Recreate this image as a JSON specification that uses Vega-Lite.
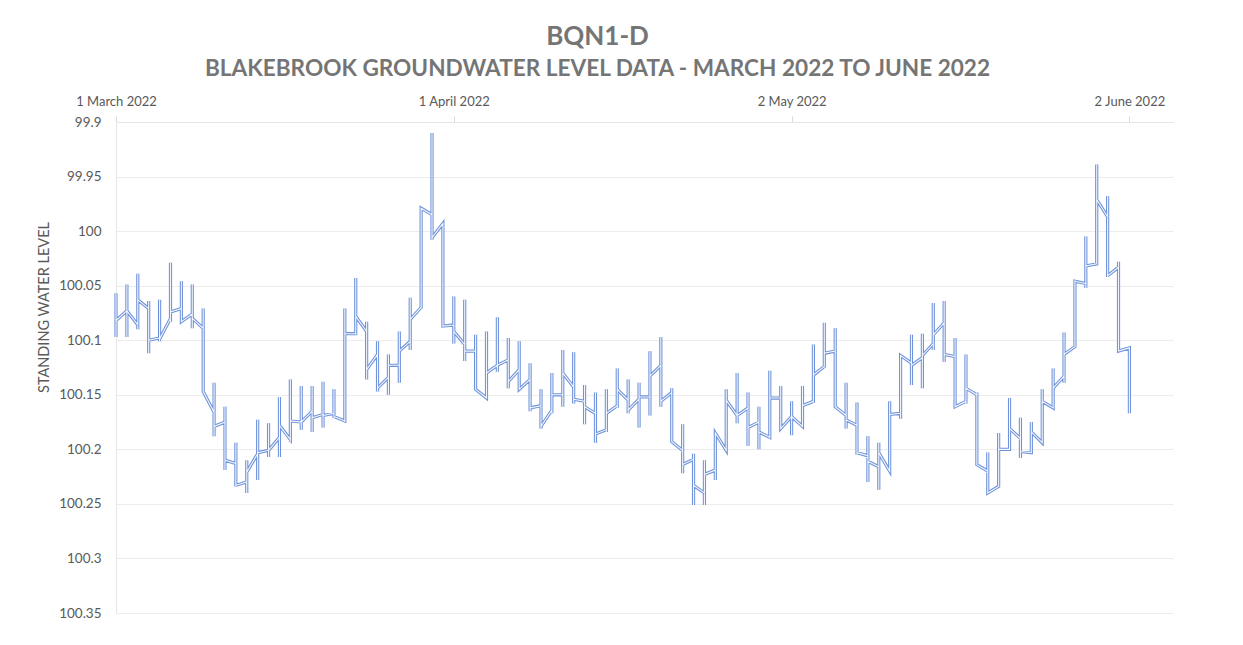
{
  "$schema": "https://vega.github.io/schema/vega-lite/v6.json",
  "width": 1057,
  "height": 491,
  "autosize": {"type": "none"},
  "padding": {"left": 116, "top": 122, "right": 70, "bottom": 32},
  "background": "#ffffff",
  "config": {"view": {"stroke": null}, "font": "Lato"},
  "title": {
    "text": "BQN1-D",
    "subtitle": "BLAKEBROOK GROUNDWATER LEVEL DATA - MARCH 2022 TO JUNE 2022",
    "anchor": "middle",
    "frame": "bounds",
    "dx": -7,
    "offset": 14,
    "font": "Lato",
    "fontSize": 26,
    "fontWeight": "bold",
    "color": "#757575",
    "subtitleFont": "Lato",
    "subtitleFontSize": 22.6,
    "subtitleFontWeight": "bold",
    "subtitleColor": "#757575",
    "subtitlePadding": 8
  },
  "data": {"values": [
{"date":"2022-03-01","seq":0,"level":100.082},{"date":"2022-03-01","seq":1,"level":100.057},{"date":"2022-03-01","seq":2,"level":100.097},{"date":"2022-03-01","seq":3,"level":100.082},
{"date":"2022-03-02","seq":4,"level":100.073},{"date":"2022-03-02","seq":5,"level":100.049},{"date":"2022-03-02","seq":6,"level":100.097},{"date":"2022-03-02","seq":7,"level":100.073},
{"date":"2022-03-03","seq":8,"level":100.086},{"date":"2022-03-03","seq":9,"level":100.039},{"date":"2022-03-03","seq":10,"level":100.090},{"date":"2022-03-03","seq":11,"level":100.063},
{"date":"2022-03-04","seq":12,"level":100.071},{"date":"2022-03-04","seq":13,"level":100.064},{"date":"2022-03-04","seq":14,"level":100.112},{"date":"2022-03-04","seq":15,"level":100.100},
{"date":"2022-03-05","seq":16,"level":100.098},{"date":"2022-03-05","seq":17,"level":100.063},{"date":"2022-03-05","seq":18,"level":100.101},{"date":"2022-03-05","seq":19,"level":100.099},
{"date":"2022-03-06","seq":20,"level":100.080},{"date":"2022-03-06","seq":21,"level":100.029},{"date":"2022-03-06","seq":22,"level":100.083},{"date":"2022-03-06","seq":23,"level":100.074},
{"date":"2022-03-07","seq":24,"level":100.071},{"date":"2022-03-07","seq":25,"level":100.046},{"date":"2022-03-07","seq":26,"level":100.083},{"date":"2022-03-07","seq":27,"level":100.083},
{"date":"2022-03-08","seq":28,"level":100.076},{"date":"2022-03-08","seq":29,"level":100.049},{"date":"2022-03-08","seq":30,"level":100.089},{"date":"2022-03-08","seq":31,"level":100.080},
{"date":"2022-03-09","seq":32,"level":100.089},{"date":"2022-03-09","seq":33,"level":100.071},{"date":"2022-03-09","seq":34,"level":100.148},{"date":"2022-03-09","seq":35,"level":100.147},
{"date":"2022-03-10","seq":36,"level":100.166},{"date":"2022-03-10","seq":37,"level":100.139},{"date":"2022-03-10","seq":38,"level":100.188},{"date":"2022-03-10","seq":39,"level":100.179},
{"date":"2022-03-11","seq":40,"level":100.175},{"date":"2022-03-11","seq":41,"level":100.161},{"date":"2022-03-11","seq":42,"level":100.219},{"date":"2022-03-11","seq":43,"level":100.210},
{"date":"2022-03-12","seq":44,"level":100.213},{"date":"2022-03-12","seq":45,"level":100.194},{"date":"2022-03-12","seq":46,"level":100.234},{"date":"2022-03-12","seq":47,"level":100.233},
{"date":"2022-03-13","seq":48,"level":100.230},{"date":"2022-03-13","seq":49,"level":100.210},{"date":"2022-03-13","seq":50,"level":100.240},{"date":"2022-03-13","seq":51,"level":100.221},
{"date":"2022-03-14","seq":52,"level":100.204},{"date":"2022-03-14","seq":53,"level":100.173},{"date":"2022-03-14","seq":54,"level":100.228},{"date":"2022-03-14","seq":55,"level":100.203},
{"date":"2022-03-15","seq":56,"level":100.201},{"date":"2022-03-15","seq":57,"level":100.176},{"date":"2022-03-15","seq":58,"level":100.207},{"date":"2022-03-15","seq":59,"level":100.201},
{"date":"2022-03-16","seq":60,"level":100.189},{"date":"2022-03-16","seq":61,"level":100.152},{"date":"2022-03-16","seq":62,"level":100.207},{"date":"2022-03-16","seq":63,"level":100.178},
{"date":"2022-03-17","seq":64,"level":100.191},{"date":"2022-03-17","seq":65,"level":100.136},{"date":"2022-03-17","seq":66,"level":100.193},{"date":"2022-03-17","seq":67,"level":100.174},
{"date":"2022-03-18","seq":68,"level":100.175},{"date":"2022-03-18","seq":69,"level":100.142},{"date":"2022-03-18","seq":70,"level":100.182},{"date":"2022-03-18","seq":71,"level":100.175},
{"date":"2022-03-19","seq":72,"level":100.165},{"date":"2022-03-19","seq":73,"level":100.142},{"date":"2022-03-19","seq":74,"level":100.184},{"date":"2022-03-19","seq":75,"level":100.171},
{"date":"2022-03-20","seq":76,"level":100.168},{"date":"2022-03-20","seq":77,"level":100.138},{"date":"2022-03-20","seq":78,"level":100.180},{"date":"2022-03-20","seq":79,"level":100.169},
{"date":"2022-03-21","seq":80,"level":100.167},{"date":"2022-03-21","seq":81,"level":100.145},{"date":"2022-03-21","seq":82,"level":100.171},{"date":"2022-03-21","seq":83,"level":100.170},
{"date":"2022-03-22","seq":84,"level":100.174},{"date":"2022-03-22","seq":85,"level":100.071},{"date":"2022-03-22","seq":86,"level":100.175},{"date":"2022-03-22","seq":87,"level":100.094},
{"date":"2022-03-23","seq":88,"level":100.094},{"date":"2022-03-23","seq":89,"level":100.043},{"date":"2022-03-23","seq":90,"level":100.095},{"date":"2022-03-23","seq":91,"level":100.078},
{"date":"2022-03-24","seq":92,"level":100.092},{"date":"2022-03-24","seq":93,"level":100.083},{"date":"2022-03-24","seq":94,"level":100.136},{"date":"2022-03-24","seq":95,"level":100.127},
{"date":"2022-03-25","seq":96,"level":100.113},{"date":"2022-03-25","seq":97,"level":100.101},{"date":"2022-03-25","seq":98,"level":100.147},{"date":"2022-03-25","seq":99,"level":100.144},
{"date":"2022-03-26","seq":100,"level":100.134},{"date":"2022-03-26","seq":101,"level":100.113},{"date":"2022-03-26","seq":102,"level":100.150},{"date":"2022-03-26","seq":103,"level":100.123},
{"date":"2022-03-27","seq":104,"level":100.123},{"date":"2022-03-27","seq":105,"level":100.092},{"date":"2022-03-27","seq":106,"level":100.139},{"date":"2022-03-27","seq":107,"level":100.110},
{"date":"2022-03-28","seq":108,"level":100.101},{"date":"2022-03-28","seq":109,"level":100.061},{"date":"2022-03-28","seq":110,"level":100.109},{"date":"2022-03-28","seq":111,"level":100.081},
{"date":"2022-03-29","seq":112,"level":100.070},{"date":"2022-03-29","seq":113,"level":99.979},{"date":"2022-03-29","seq":114,"level":100.071},{"date":"2022-03-29","seq":115,"level":99.979},
{"date":"2022-03-30","seq":116,"level":99.985},{"date":"2022-03-30","seq":117,"level":99.910},{"date":"2022-03-30","seq":118,"level":100.008},{"date":"2022-03-30","seq":119,"level":100.006},
{"date":"2022-03-31","seq":120,"level":99.993},{"date":"2022-03-31","seq":121,"level":99.993},{"date":"2022-03-31","seq":122,"level":100.087},{"date":"2022-03-31","seq":123,"level":100.087},
{"date":"2022-04-01","seq":124,"level":100.086},{"date":"2022-04-01","seq":125,"level":100.060},{"date":"2022-04-01","seq":126,"level":100.103},{"date":"2022-04-01","seq":127,"level":100.092},
{"date":"2022-04-02","seq":128,"level":100.104},{"date":"2022-04-02","seq":129,"level":100.063},{"date":"2022-04-02","seq":130,"level":100.119},{"date":"2022-04-02","seq":131,"level":100.110},
{"date":"2022-04-03","seq":132,"level":100.110},{"date":"2022-04-03","seq":133,"level":100.095},{"date":"2022-04-03","seq":134,"level":100.145},{"date":"2022-04-03","seq":135,"level":100.145},
{"date":"2022-04-04","seq":136,"level":100.153},{"date":"2022-04-04","seq":137,"level":100.092},{"date":"2022-04-04","seq":138,"level":100.153},{"date":"2022-04-04","seq":139,"level":100.130},
{"date":"2022-04-05","seq":140,"level":100.123},{"date":"2022-04-05","seq":141,"level":100.079},{"date":"2022-04-05","seq":142,"level":100.129},{"date":"2022-04-05","seq":143,"level":100.123},
{"date":"2022-04-06","seq":144,"level":100.118},{"date":"2022-04-06","seq":145,"level":100.098},{"date":"2022-04-06","seq":146,"level":100.144},{"date":"2022-04-06","seq":147,"level":100.138},
{"date":"2022-04-07","seq":148,"level":100.127},{"date":"2022-04-07","seq":149,"level":100.101},{"date":"2022-04-07","seq":150,"level":100.145},{"date":"2022-04-07","seq":151,"level":100.145},
{"date":"2022-04-08","seq":152,"level":100.136},{"date":"2022-04-08","seq":153,"level":100.121},{"date":"2022-04-08","seq":154,"level":100.165},{"date":"2022-04-08","seq":155,"level":100.162},
{"date":"2022-04-09","seq":156,"level":100.160},{"date":"2022-04-09","seq":157,"level":100.145},{"date":"2022-04-09","seq":158,"level":100.181},{"date":"2022-04-09","seq":159,"level":100.179},
{"date":"2022-04-10","seq":160,"level":100.164},{"date":"2022-04-10","seq":161,"level":100.130},{"date":"2022-04-10","seq":162,"level":100.167},{"date":"2022-04-10","seq":163,"level":100.150},
{"date":"2022-04-11","seq":164,"level":100.150},{"date":"2022-04-11","seq":165,"level":100.109},{"date":"2022-04-11","seq":166,"level":100.161},{"date":"2022-04-11","seq":167,"level":100.130},
{"date":"2022-04-12","seq":168,"level":100.143},{"date":"2022-04-12","seq":169,"level":100.111},{"date":"2022-04-12","seq":170,"level":100.158},{"date":"2022-04-12","seq":171,"level":100.154},
{"date":"2022-04-13","seq":172,"level":100.156},{"date":"2022-04-13","seq":173,"level":100.141},{"date":"2022-04-13","seq":174,"level":100.177},{"date":"2022-04-13","seq":175,"level":100.161},
{"date":"2022-04-14","seq":176,"level":100.167},{"date":"2022-04-14","seq":177,"level":100.148},{"date":"2022-04-14","seq":178,"level":100.194},{"date":"2022-04-14","seq":179,"level":100.186},
{"date":"2022-04-15","seq":180,"level":100.182},{"date":"2022-04-15","seq":181,"level":100.145},{"date":"2022-04-15","seq":182,"level":100.184},{"date":"2022-04-15","seq":183,"level":100.167},
{"date":"2022-04-16","seq":184,"level":100.160},{"date":"2022-04-16","seq":185,"level":100.126},{"date":"2022-04-16","seq":186,"level":100.162},{"date":"2022-04-16","seq":187,"level":100.145},
{"date":"2022-04-17","seq":188,"level":100.155},{"date":"2022-04-17","seq":189,"level":100.136},{"date":"2022-04-17","seq":190,"level":100.167},{"date":"2022-04-17","seq":191,"level":100.164},
{"date":"2022-04-18","seq":192,"level":100.154},{"date":"2022-04-18","seq":193,"level":100.139},{"date":"2022-04-18","seq":194,"level":100.180},{"date":"2022-04-18","seq":195,"level":100.152},
{"date":"2022-04-19","seq":196,"level":100.152},{"date":"2022-04-19","seq":197,"level":100.110},{"date":"2022-04-19","seq":198,"level":100.169},{"date":"2022-04-19","seq":199,"level":100.133},
{"date":"2022-04-20","seq":200,"level":100.123},{"date":"2022-04-20","seq":201,"level":100.097},{"date":"2022-04-20","seq":202,"level":100.161},{"date":"2022-04-20","seq":203,"level":100.156},
{"date":"2022-04-21","seq":204,"level":100.148},{"date":"2022-04-21","seq":205,"level":100.144},{"date":"2022-04-21","seq":206,"level":100.193},{"date":"2022-04-21","seq":207,"level":100.193},
{"date":"2022-04-22","seq":208,"level":100.201},{"date":"2022-04-22","seq":209,"level":100.177},{"date":"2022-04-22","seq":210,"level":100.222},{"date":"2022-04-22","seq":211,"level":100.214},
{"date":"2022-04-23","seq":212,"level":100.209},{"date":"2022-04-23","seq":213,"level":100.204},{"date":"2022-04-23","seq":214,"level":100.251},{"date":"2022-04-23","seq":215,"level":100.233},
{"date":"2022-04-24","seq":216,"level":100.240},{"date":"2022-04-24","seq":217,"level":100.210},{"date":"2022-04-24","seq":218,"level":100.251},{"date":"2022-04-24","seq":219,"level":100.223},
{"date":"2022-04-25","seq":220,"level":100.219},{"date":"2022-04-25","seq":221,"level":100.185},{"date":"2022-04-25","seq":222,"level":100.228},{"date":"2022-04-25","seq":223,"level":100.185},
{"date":"2022-04-26","seq":224,"level":100.201},{"date":"2022-04-26","seq":225,"level":100.145},{"date":"2022-04-26","seq":226,"level":100.201},{"date":"2022-04-26","seq":227,"level":100.155},
{"date":"2022-04-27","seq":228,"level":100.169},{"date":"2022-04-27","seq":229,"level":100.130},{"date":"2022-04-27","seq":230,"level":100.176},{"date":"2022-04-27","seq":231,"level":100.169},
{"date":"2022-04-28","seq":232,"level":100.162},{"date":"2022-04-28","seq":233,"level":100.148},{"date":"2022-04-28","seq":234,"level":100.197},{"date":"2022-04-28","seq":235,"level":100.180},
{"date":"2022-04-29","seq":236,"level":100.175},{"date":"2022-04-29","seq":237,"level":100.161},{"date":"2022-04-29","seq":238,"level":100.200},{"date":"2022-04-29","seq":239,"level":100.184},
{"date":"2022-04-30","seq":240,"level":100.189},{"date":"2022-04-30","seq":241,"level":100.128},{"date":"2022-04-30","seq":242,"level":100.190},{"date":"2022-04-30","seq":243,"level":100.153},
{"date":"2022-05-01","seq":244,"level":100.153},{"date":"2022-05-01","seq":245,"level":100.142},{"date":"2022-05-01","seq":246,"level":100.181},{"date":"2022-05-01","seq":247,"level":100.181},
{"date":"2022-05-02","seq":248,"level":100.170},{"date":"2022-05-02","seq":249,"level":100.156},{"date":"2022-05-02","seq":250,"level":100.187},{"date":"2022-05-02","seq":251,"level":100.170},
{"date":"2022-05-03","seq":252,"level":100.179},{"date":"2022-05-03","seq":253,"level":100.142},{"date":"2022-05-03","seq":254,"level":100.179},{"date":"2022-05-03","seq":255,"level":100.160},
{"date":"2022-05-04","seq":256,"level":100.156},{"date":"2022-05-04","seq":257,"level":100.104},{"date":"2022-05-04","seq":258,"level":100.157},{"date":"2022-05-04","seq":259,"level":100.132},
{"date":"2022-05-05","seq":260,"level":100.124},{"date":"2022-05-05","seq":261,"level":100.084},{"date":"2022-05-05","seq":262,"level":100.125},{"date":"2022-05-05","seq":263,"level":100.112},
{"date":"2022-05-06","seq":264,"level":100.110},{"date":"2022-05-06","seq":265,"level":100.089},{"date":"2022-05-06","seq":266,"level":100.161},{"date":"2022-05-06","seq":267,"level":100.161},
{"date":"2022-05-07","seq":268,"level":100.169},{"date":"2022-05-07","seq":269,"level":100.139},{"date":"2022-05-07","seq":270,"level":100.181},{"date":"2022-05-07","seq":271,"level":100.173},
{"date":"2022-05-08","seq":272,"level":100.178},{"date":"2022-05-08","seq":273,"level":100.157},{"date":"2022-05-08","seq":274,"level":100.205},{"date":"2022-05-08","seq":275,"level":100.203},
{"date":"2022-05-09","seq":276,"level":100.206},{"date":"2022-05-09","seq":277,"level":100.188},{"date":"2022-05-09","seq":278,"level":100.230},{"date":"2022-05-09","seq":279,"level":100.211},
{"date":"2022-05-10","seq":280,"level":100.216},{"date":"2022-05-10","seq":281,"level":100.194},{"date":"2022-05-10","seq":282,"level":100.237},{"date":"2022-05-10","seq":283,"level":100.203},
{"date":"2022-05-11","seq":284,"level":100.220},{"date":"2022-05-11","seq":285,"level":100.156},{"date":"2022-05-11","seq":286,"level":100.220},{"date":"2022-05-11","seq":287,"level":100.168},
{"date":"2022-05-12","seq":288,"level":100.167},{"date":"2022-05-12","seq":289,"level":100.114},{"date":"2022-05-12","seq":290,"level":100.172},{"date":"2022-05-12","seq":291,"level":100.114},
{"date":"2022-05-13","seq":292,"level":100.121},{"date":"2022-05-13","seq":293,"level":100.095},{"date":"2022-05-13","seq":294,"level":100.141},{"date":"2022-05-13","seq":295,"level":100.123},
{"date":"2022-05-14","seq":296,"level":100.116},{"date":"2022-05-14","seq":297,"level":100.094},{"date":"2022-05-14","seq":298,"level":100.144},{"date":"2022-05-14","seq":299,"level":100.114},
{"date":"2022-05-15","seq":300,"level":100.103},{"date":"2022-05-15","seq":301,"level":100.066},{"date":"2022-05-15","seq":302,"level":100.109},{"date":"2022-05-15","seq":303,"level":100.095},
{"date":"2022-05-16","seq":304,"level":100.084},{"date":"2022-05-16","seq":305,"level":100.064},{"date":"2022-05-16","seq":306,"level":100.120},{"date":"2022-05-16","seq":307,"level":100.113},
{"date":"2022-05-17","seq":308,"level":100.115},{"date":"2022-05-17","seq":309,"level":100.098},{"date":"2022-05-17","seq":310,"level":100.161},{"date":"2022-05-17","seq":311,"level":100.161},
{"date":"2022-05-18","seq":312,"level":100.156},{"date":"2022-05-18","seq":313,"level":100.113},{"date":"2022-05-18","seq":314,"level":100.158},{"date":"2022-05-18","seq":315,"level":100.144},
{"date":"2022-05-19","seq":316,"level":100.150},{"date":"2022-05-19","seq":317,"level":100.148},{"date":"2022-05-19","seq":318,"level":100.214},{"date":"2022-05-19","seq":319,"level":100.214},
{"date":"2022-05-20","seq":320,"level":100.220},{"date":"2022-05-20","seq":321,"level":100.203},{"date":"2022-05-20","seq":322,"level":100.240},{"date":"2022-05-20","seq":323,"level":100.240},
{"date":"2022-05-21","seq":324,"level":100.234},{"date":"2022-05-21","seq":325,"level":100.185},{"date":"2022-05-21","seq":326,"level":100.234},{"date":"2022-05-21","seq":327,"level":100.200},
{"date":"2022-05-22","seq":328,"level":100.200},{"date":"2022-05-22","seq":329,"level":100.153},{"date":"2022-05-22","seq":330,"level":100.200},{"date":"2022-05-22","seq":331,"level":100.181},
{"date":"2022-05-23","seq":332,"level":100.190},{"date":"2022-05-23","seq":333,"level":100.171},{"date":"2022-05-23","seq":334,"level":100.208},{"date":"2022-05-23","seq":335,"level":100.202},
{"date":"2022-05-24","seq":336,"level":100.203},{"date":"2022-05-24","seq":337,"level":100.175},{"date":"2022-05-24","seq":338,"level":100.203},{"date":"2022-05-24","seq":339,"level":100.184},
{"date":"2022-05-25","seq":340,"level":100.194},{"date":"2022-05-25","seq":341,"level":100.145},{"date":"2022-05-25","seq":342,"level":100.194},{"date":"2022-05-25","seq":343,"level":100.156},
{"date":"2022-05-26","seq":344,"level":100.162},{"date":"2022-05-26","seq":345,"level":100.126},{"date":"2022-05-26","seq":346,"level":100.162},{"date":"2022-05-26","seq":347,"level":100.144},
{"date":"2022-05-27","seq":348,"level":100.133},{"date":"2022-05-27","seq":349,"level":100.093},{"date":"2022-05-27","seq":350,"level":100.139},{"date":"2022-05-27","seq":351,"level":100.113},
{"date":"2022-05-28","seq":352,"level":100.106},{"date":"2022-05-28","seq":353,"level":100.045},{"date":"2022-05-28","seq":354,"level":100.106},{"date":"2022-05-28","seq":355,"level":100.046},
{"date":"2022-05-29","seq":356,"level":100.048},{"date":"2022-05-29","seq":357,"level":100.005},{"date":"2022-05-29","seq":358,"level":100.052},{"date":"2022-05-29","seq":359,"level":100.032},
{"date":"2022-05-30","seq":360,"level":100.030},{"date":"2022-05-30","seq":361,"level":99.939},{"date":"2022-05-30","seq":362,"level":100.030},{"date":"2022-05-30","seq":363,"level":99.971},
{"date":"2022-05-31","seq":364,"level":99.987},{"date":"2022-05-31","seq":365,"level":99.968},{"date":"2022-05-31","seq":366,"level":100.042},{"date":"2022-05-31","seq":367,"level":100.041},
{"date":"2022-06-01","seq":368,"level":100.033},{"date":"2022-06-01","seq":369,"level":100.028},{"date":"2022-06-01","seq":370,"level":100.110},{"date":"2022-06-01","seq":371,"level":100.110},
{"date":"2022-06-02","seq":372,"level":100.107},{"date":"2022-06-02","seq":373,"level":100.107},{"date":"2022-06-02","seq":374,"level":100.167},{"date":"2022-06-02","seq":375,"level":100.167}
  ]},
  "encoding": {
    "x": {
      "field": "date",
      "type": "temporal",
      "scale": {
        "type": "utc",
        "domain": [
          {"year": 2022, "month": 3, "date": 1, "utc": true},
          {"year": 2022, "month": 6, "date": 6, "utc": true}
        ],
        "nice": false
      },
      "axis": {
        "orient": "top",
        "title": null,
        "values": [
          {"year": 2022, "month": 3, "date": 1, "utc": true},
          {"year": 2022, "month": 4, "date": 1, "utc": true},
          {"year": 2022, "month": 5, "date": 2, "utc": true},
          {"year": 2022, "month": 6, "date": 2, "utc": true}
        ],
        "format": "%-d %B %Y",
        "labelFont": "Lato",
        "labelFontSize": 13,
        "labelColor": "#595959",
        "labelFlush": false,
        "labelOverlap": false,
        "labelPadding": 8,
        "grid": false,
        "domain": true,
        "domainColor": "#e6e6e6",
        "ticks": true,
        "tickColor": "#d9d9d9",
        "tickSize": 6
      }
    },
    "y": {
      "field": "level",
      "type": "quantitative",
      "scale": {"domain": [99.9, 100.35], "reverse": true, "zero": false, "nice": false},
      "axis": {
        "values": [99.9, 99.95, 100, 100.05, 100.1, 100.15, 100.2, 100.25, 100.3, 100.35],
        "format": ".2~f",
        "labelFont": "Lato",
        "labelFontSize": 13.5,
        "labelColor": "#595959",
        "labelPadding": 15,
        "ticks": false,
        "domain": true,
        "domainColor": "#e6e6e6",
        "grid": true,
        "gridColor": "#ececec",
        "gridWidth": 1,
        "title": "STANDING WATER LEVEL",
        "titleFont": "Lato",
        "titleFontSize": 14.5,
        "titleFontWeight": "normal",
        "titleColor": "#595959",
        "titleAngle": 270,
        "titleAlign": "center",
        "titleBaseline": "alphabetic",
        "titleX": -68,
        "titleY": 185
      }
    },
    "order": {"field": "seq", "type": "quantitative"}
  },
  "layer": [
    {"mark": {"type": "line", "color": "#6f93da", "strokeWidth": 3.2, "strokeJoin": "miter"}},
    {"mark": {"type": "line", "color": "#f4f7fd", "strokeWidth": 1.1, "strokeJoin": "miter"}}
  ]
}
